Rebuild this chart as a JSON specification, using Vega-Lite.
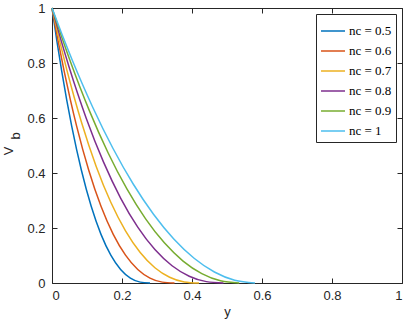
{
  "$schema": "https://vega.github.io/schema/vega-lite/v6.json",
  "width": 350,
  "height": 275,
  "autosize": {"type": "none"},
  "padding": {"left": 52, "top": 8, "right": 5, "bottom": 39},
  "background": "white",
  "config": {
    "view": {"stroke": "#262626", "strokeWidth": 1},
    "font": "Liberation Sans",
    "axis": {
      "domain": false,
      "grid": false,
      "tickSize": -5,
      "tickColor": "#262626",
      "tickWidth": 1,
      "labelColor": "#262626",
      "titleColor": "#262626",
      "labelFont": "Liberation Sans",
      "titleFont": "Liberation Sans",
      "labelFontSize": 13,
      "titleFontSize": 13,
      "titleFontWeight": "normal"
    },
    "legend": {
      "orient": "top-right",
      "offset": 6,
      "strokeColor": "#262626",
      "fillColor": "white",
      "padding": 4,
      "symbolType": "stroke",
      "symbolStrokeWidth": 1.5,
      "symbolSize": 576,
      "labelFont": "Liberation Serif",
      "labelFontSize": 13,
      "labelColor": "#000000",
      "labelOffset": 3,
      "rowPadding": -1,
      "title": null
    }
  },
  "data": {
    "values": [
      {"n": 0.5, "y": 0, "v": 1}, {"n": 0.5, "y": 0.014, "v": 0.8797}, {"n": 0.5, "y": 0.028, "v": 0.7684}, {"n": 0.5, "y": 0.042, "v": 0.6661}, {"n": 0.5, "y": 0.056, "v": 0.5724}, {"n": 0.5, "y": 0.084, "v": 0.41}, {"n": 0.5, "y": 0.112, "v": 0.2789}, {"n": 0.5, "y": 0.14, "v": 0.1768}, {"n": 0.5, "y": 0.168, "v": 0.1012}, {"n": 0.5, "y": 0.196, "v": 0.0493}, {"n": 0.5, "y": 0.224, "v": 0.0179}, {"n": 0.5, "y": 0.252, "v": 0.0032}, {"n": 0.5, "y": 0.28, "v": 0},
      {"n": 0.6, "y": 0, "v": 1}, {"n": 0.6, "y": 0.0175, "v": 0.8797}, {"n": 0.6, "y": 0.035, "v": 0.7684}, {"n": 0.6, "y": 0.0525, "v": 0.6661}, {"n": 0.6, "y": 0.07, "v": 0.5724}, {"n": 0.6, "y": 0.105, "v": 0.41}, {"n": 0.6, "y": 0.14, "v": 0.2789}, {"n": 0.6, "y": 0.175, "v": 0.1768}, {"n": 0.6, "y": 0.21, "v": 0.1012}, {"n": 0.6, "y": 0.245, "v": 0.0493}, {"n": 0.6, "y": 0.28, "v": 0.0179}, {"n": 0.6, "y": 0.315, "v": 0.0032}, {"n": 0.6, "y": 0.35, "v": 0},
      {"n": 0.7, "y": 0, "v": 1}, {"n": 0.7, "y": 0.021, "v": 0.8842}, {"n": 0.7, "y": 0.042, "v": 0.7766}, {"n": 0.7, "y": 0.063, "v": 0.677}, {"n": 0.7, "y": 0.084, "v": 0.5854}, {"n": 0.7, "y": 0.126, "v": 0.4249}, {"n": 0.7, "y": 0.168, "v": 0.2935}, {"n": 0.7, "y": 0.21, "v": 0.1895}, {"n": 0.7, "y": 0.252, "v": 0.1109}, {"n": 0.7, "y": 0.294, "v": 0.0556}, {"n": 0.7, "y": 0.336, "v": 0.021}, {"n": 0.7, "y": 0.378, "v": 0.004}, {"n": 0.7, "y": 0.42, "v": 0},
      {"n": 0.8, "y": 0, "v": 1}, {"n": 0.8, "y": 0.0245, "v": 0.8887}, {"n": 0.8, "y": 0.049, "v": 0.7848}, {"n": 0.8, "y": 0.0735, "v": 0.6881}, {"n": 0.8, "y": 0.098, "v": 0.5985}, {"n": 0.8, "y": 0.147, "v": 0.4403}, {"n": 0.8, "y": 0.196, "v": 0.3089}, {"n": 0.8, "y": 0.245, "v": 0.203}, {"n": 0.8, "y": 0.294, "v": 0.1215}, {"n": 0.8, "y": 0.343, "v": 0.0627}, {"n": 0.8, "y": 0.392, "v": 0.0247}, {"n": 0.8, "y": 0.441, "v": 0.005}, {"n": 0.8, "y": 0.49, "v": 0},
      {"n": 0.9, "y": 0, "v": 1}, {"n": 0.9, "y": 0.0268, "v": 0.8979}, {"n": 0.9, "y": 0.0535, "v": 0.8015}, {"n": 0.9, "y": 0.0803, "v": 0.7108}, {"n": 0.9, "y": 0.107, "v": 0.6259}, {"n": 0.9, "y": 0.1605, "v": 0.4729}, {"n": 0.9, "y": 0.214, "v": 0.3421}, {"n": 0.9, "y": 0.2675, "v": 0.2333}, {"n": 0.9, "y": 0.321, "v": 0.146}, {"n": 0.9, "y": 0.3745, "v": 0.0798}, {"n": 0.9, "y": 0.428, "v": 0.034}, {"n": 0.9, "y": 0.4815, "v": 0.0079}, {"n": 0.9, "y": 0.535, "v": 0},
      {"n": 1, "y": 0, "v": 1}, {"n": 1, "y": 0.029, "v": 0.9025}, {"n": 1, "y": 0.058, "v": 0.81}, {"n": 1, "y": 0.087, "v": 0.7225}, {"n": 1, "y": 0.116, "v": 0.64}, {"n": 1, "y": 0.174, "v": 0.49}, {"n": 1, "y": 0.232, "v": 0.36}, {"n": 1, "y": 0.29, "v": 0.25}, {"n": 1, "y": 0.348, "v": 0.16}, {"n": 1, "y": 0.406, "v": 0.09}, {"n": 1, "y": 0.464, "v": 0.04}, {"n": 1, "y": 0.522, "v": 0.01}, {"n": 1, "y": 0.58, "v": 0}
    ]
  },
  "layer": [
    {
      "mark": {"type": "line", "strokeWidth": 1.5, "interpolate": "monotone"},
      "encoding": {
        "x": {
          "field": "y", "type": "quantitative",
          "scale": {"domain": [0, 1], "nice": false},
          "axis": {"orient": "bottom", "values": [0, 0.2, 0.4, 0.6, 0.8, 1], "format": "~g", "labelPadding": 11, "title": "y", "titlePadding": 3}
        },
        "y": {
          "field": "v", "type": "quantitative",
          "scale": {"domain": [0, 1], "nice": false},
          "axis": {"orient": "left", "values": [0, 0.2, 0.4, 0.6, 0.8, 1], "format": "~g", "labelPadding": 12, "title": ["V\u2800", "\u2800\u2800b"], "titleLineHeight": 7, "titlePadding": 4}
        },
        "color": {
          "field": "n", "type": "nominal",
          "scale": {"domain": [0.5, 0.6, 0.7, 0.8, 0.9, 1], "range": ["#0072BD", "#D95319", "#EDB120", "#7E2F8E", "#77AC30", "#4DBEEE"]},
          "legend": {"labelExpr": "'nc = ' + datum.label"}
        }
      }
    },
    {
      "mark": {"type": "line", "strokeOpacity": 0},
      "encoding": {
        "x": {
          "field": "y", "type": "quantitative",
          "scale": {"domain": [0, 1], "nice": false},
          "axis": {"orient": "top", "values": [0, 0.2, 0.4, 0.6, 0.8, 1], "labels": false, "title": null}
        },
        "y": {
          "field": "v", "type": "quantitative",
          "scale": {"domain": [0, 1], "nice": false},
          "axis": {"orient": "right", "values": [0, 0.2, 0.4, 0.6, 0.8, 1], "labels": false, "title": null}
        },
        "detail": {"field": "n", "type": "nominal"}
      }
    }
  ],
  "resolve": {"axis": {"x": "independent", "y": "independent"}}
}
